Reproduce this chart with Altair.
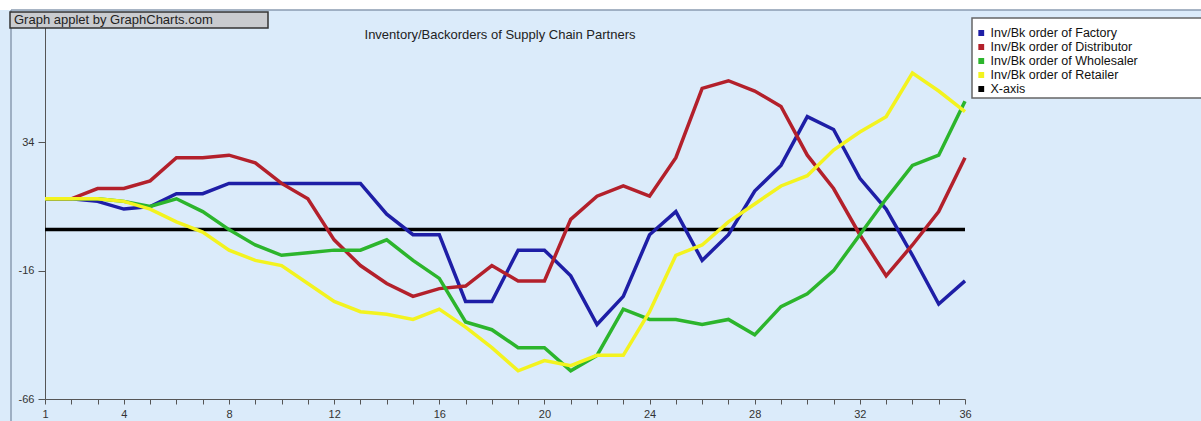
import altair as alt
import pandas as pd

# ---- data ----
x_vals = list(range(1, 37))
factory = [12, 12, 11, 8, 9, 14, 14, 18, 18, 18, 18, 18, 18, 6, -2, -2, -28, -28,
           -8, -8, -18, -37, -26, -2, 7, -12, -2, 15, 25, 44, 39, 20, 8, -10, -29, -20]
distributor = [12, 12, 16, 16, 19, 28, 28, 29, 26, 18, 12, -4, -14, -21, -26, -23, -22, -14,
               -20, -20, 4, 13, 17, 13, 28, 55, 58, 54, 48, 29, 16, -2, -18, -6, 7, 28]
wholesaler = [12, 12, 12, 11, 9, 12, 7, 0, -6, -10, -9, -8, -8, -4, -12, -19, -36, -39,
              -46, -46, -55, -49, -31, -35, -35, -37, -35, -41, -30, -25, -16, -2, 12, 25, 29, 50]
retailer = [12, 12, 12, 11, 8, 3, -1, -8, -12, -14, -21, -28, -32, -33, -35, -31, -38, -46,
            -55, -51, -53, -49, -49, -32, -10, -6, 3, 10, 17, 21, 31, 38, 44, 61, 54, 46]
zero_line = [0] * 36

series_names = ["Inv/Bk order of Factory", "Inv/Bk order of Distributor",
                "Inv/Bk order of Wholesaler", "Inv/Bk order of Retailer", "X-axis"]
series_values = [factory, distributor, wholesaler, retailer, zero_line]
series_colors = ["#1e1ea6", "#b3202b", "#2cb52c", "#f3f31f", "#000000"]

y_tick_values = [-66, -16, 34]
x_label_values = [1, 4, 8, 12, 16, 20, 24, 28, 32, 36]
title_text = "Inventory/Backorders of Supply Chain Partners"
badge_text = "Graph applet by GraphCharts.com"

rows = []
for name, vals in zip(series_names, series_values):
    for xv, yv in zip(x_vals, vals):
        rows.append({"series": name, "x": xv, "value": yv})
df = pd.DataFrame(rows)
dummy = pd.DataFrame({"d": [0]})

BG = "#dbebfa"
FONT = "Liberation Sans"

color = alt.Color(
    "series:N",
    scale=alt.Scale(domain=series_names, range=series_colors),
    legend=alt.Legend(
        orient="none", legendX=930, legendY=12, title=None,
        symbolType="square", symbolSize=8, symbolStrokeWidth=3,
        labelFont=FONT, labelFontSize=12.5, labelColor="#111",
        labelOffset=3, rowPadding=0.001, padding=0.001, labelLimit=300,
        clipHeight=14,
    ),
)

xenc = alt.X(
    "x:Q",
    scale=alt.Scale(domain=[1, 36], nice=False, zero=False),
    axis=alt.Axis(
        title=None, values=x_vals, grid=False,
        labelExpr="indexof(" + str(x_label_values) + ", datum.value) >= 0 ? toString(datum.value) : ''",
        tickSize=5, labelPadding=4, labelFont=FONT, labelFontSize=11, labelColor="#333",
        domainColor="#555", tickColor="#555", labelFlush=False,
    ),
)
yenc = alt.Y(
    "value:Q",
    scale=alt.Scale(domain=[-66, 84], nice=False, zero=False),
    axis=alt.Axis(
        title=None, values=y_tick_values, grid=False,
        labelExpr="toString(datum.value)",
        tickSize=7, labelPadding=4, labelFont=FONT, labelFontSize=11, labelColor="#333",
        domainColor="#555", tickColor="#555",
    ),
)

# decorations (frame, badge, legend box, title)
top_strip = alt.Chart(dummy).mark_rect(fill="white").encode(
    x=alt.value(-45), x2=alt.value(1160), y=alt.value(-14), y2=alt.value(-4))
top_line = alt.Chart(dummy).mark_rule(color="#8a9bb0", strokeWidth=1.5).encode(
    x=alt.value(-34), x2=alt.value(1160), y=alt.value(-4))
left_line = alt.Chart(dummy).mark_rule(color="#8a9bb0", strokeWidth=1.5).encode(
    x=alt.value(-34), y=alt.value(-4), y2=alt.value(410))
legend_box = alt.Chart(dummy).mark_rect(fill="white", stroke="#666", strokeWidth=1.5).encode(
    x=alt.value(927), x2=alt.value(1165), y=alt.value(4), y2=alt.value(84))
title = alt.Chart(dummy).mark_text(
    text=title_text, font=FONT, fontSize=13, color="#222", align="center", baseline="middle"
).encode(x=alt.value(455), y=alt.value(21))

lines = [
    alt.Chart(df).transform_filter(alt.datum.series == name)
    .mark_line(strokeWidth=3.5, interpolate="linear")
    .encode(x=xenc, y=yenc, color=color)
    for name in [series_names[4]] + series_names[:4]
]

badge_box = alt.Chart(dummy).mark_rect(fill="#c9cbcf", stroke="#333", strokeWidth=1.5).encode(
    x=alt.value(-35), x2=alt.value(223), y=alt.value(-2), y2=alt.value(14))
badge = alt.Chart(dummy).mark_text(
    text=badge_text, font=FONT, fontSize=13, color="#222", align="left", baseline="middle"
).encode(x=alt.value(-31), y=alt.value(6))

chart = alt.layer(
    top_strip, top_line, left_line, legend_box, title, *lines, badge_box, badge
).properties(
    width=920, height=385,
    autosize=alt.AutoSizeParams(type="none"),
    padding={"left": 45, "top": 14, "right": 236, "bottom": 22},
).configure(background=BG).configure_view(fill=BG, strokeWidth=0)

chart.save("out.html", embed_options={"renderer": "svg", "actions": False})
